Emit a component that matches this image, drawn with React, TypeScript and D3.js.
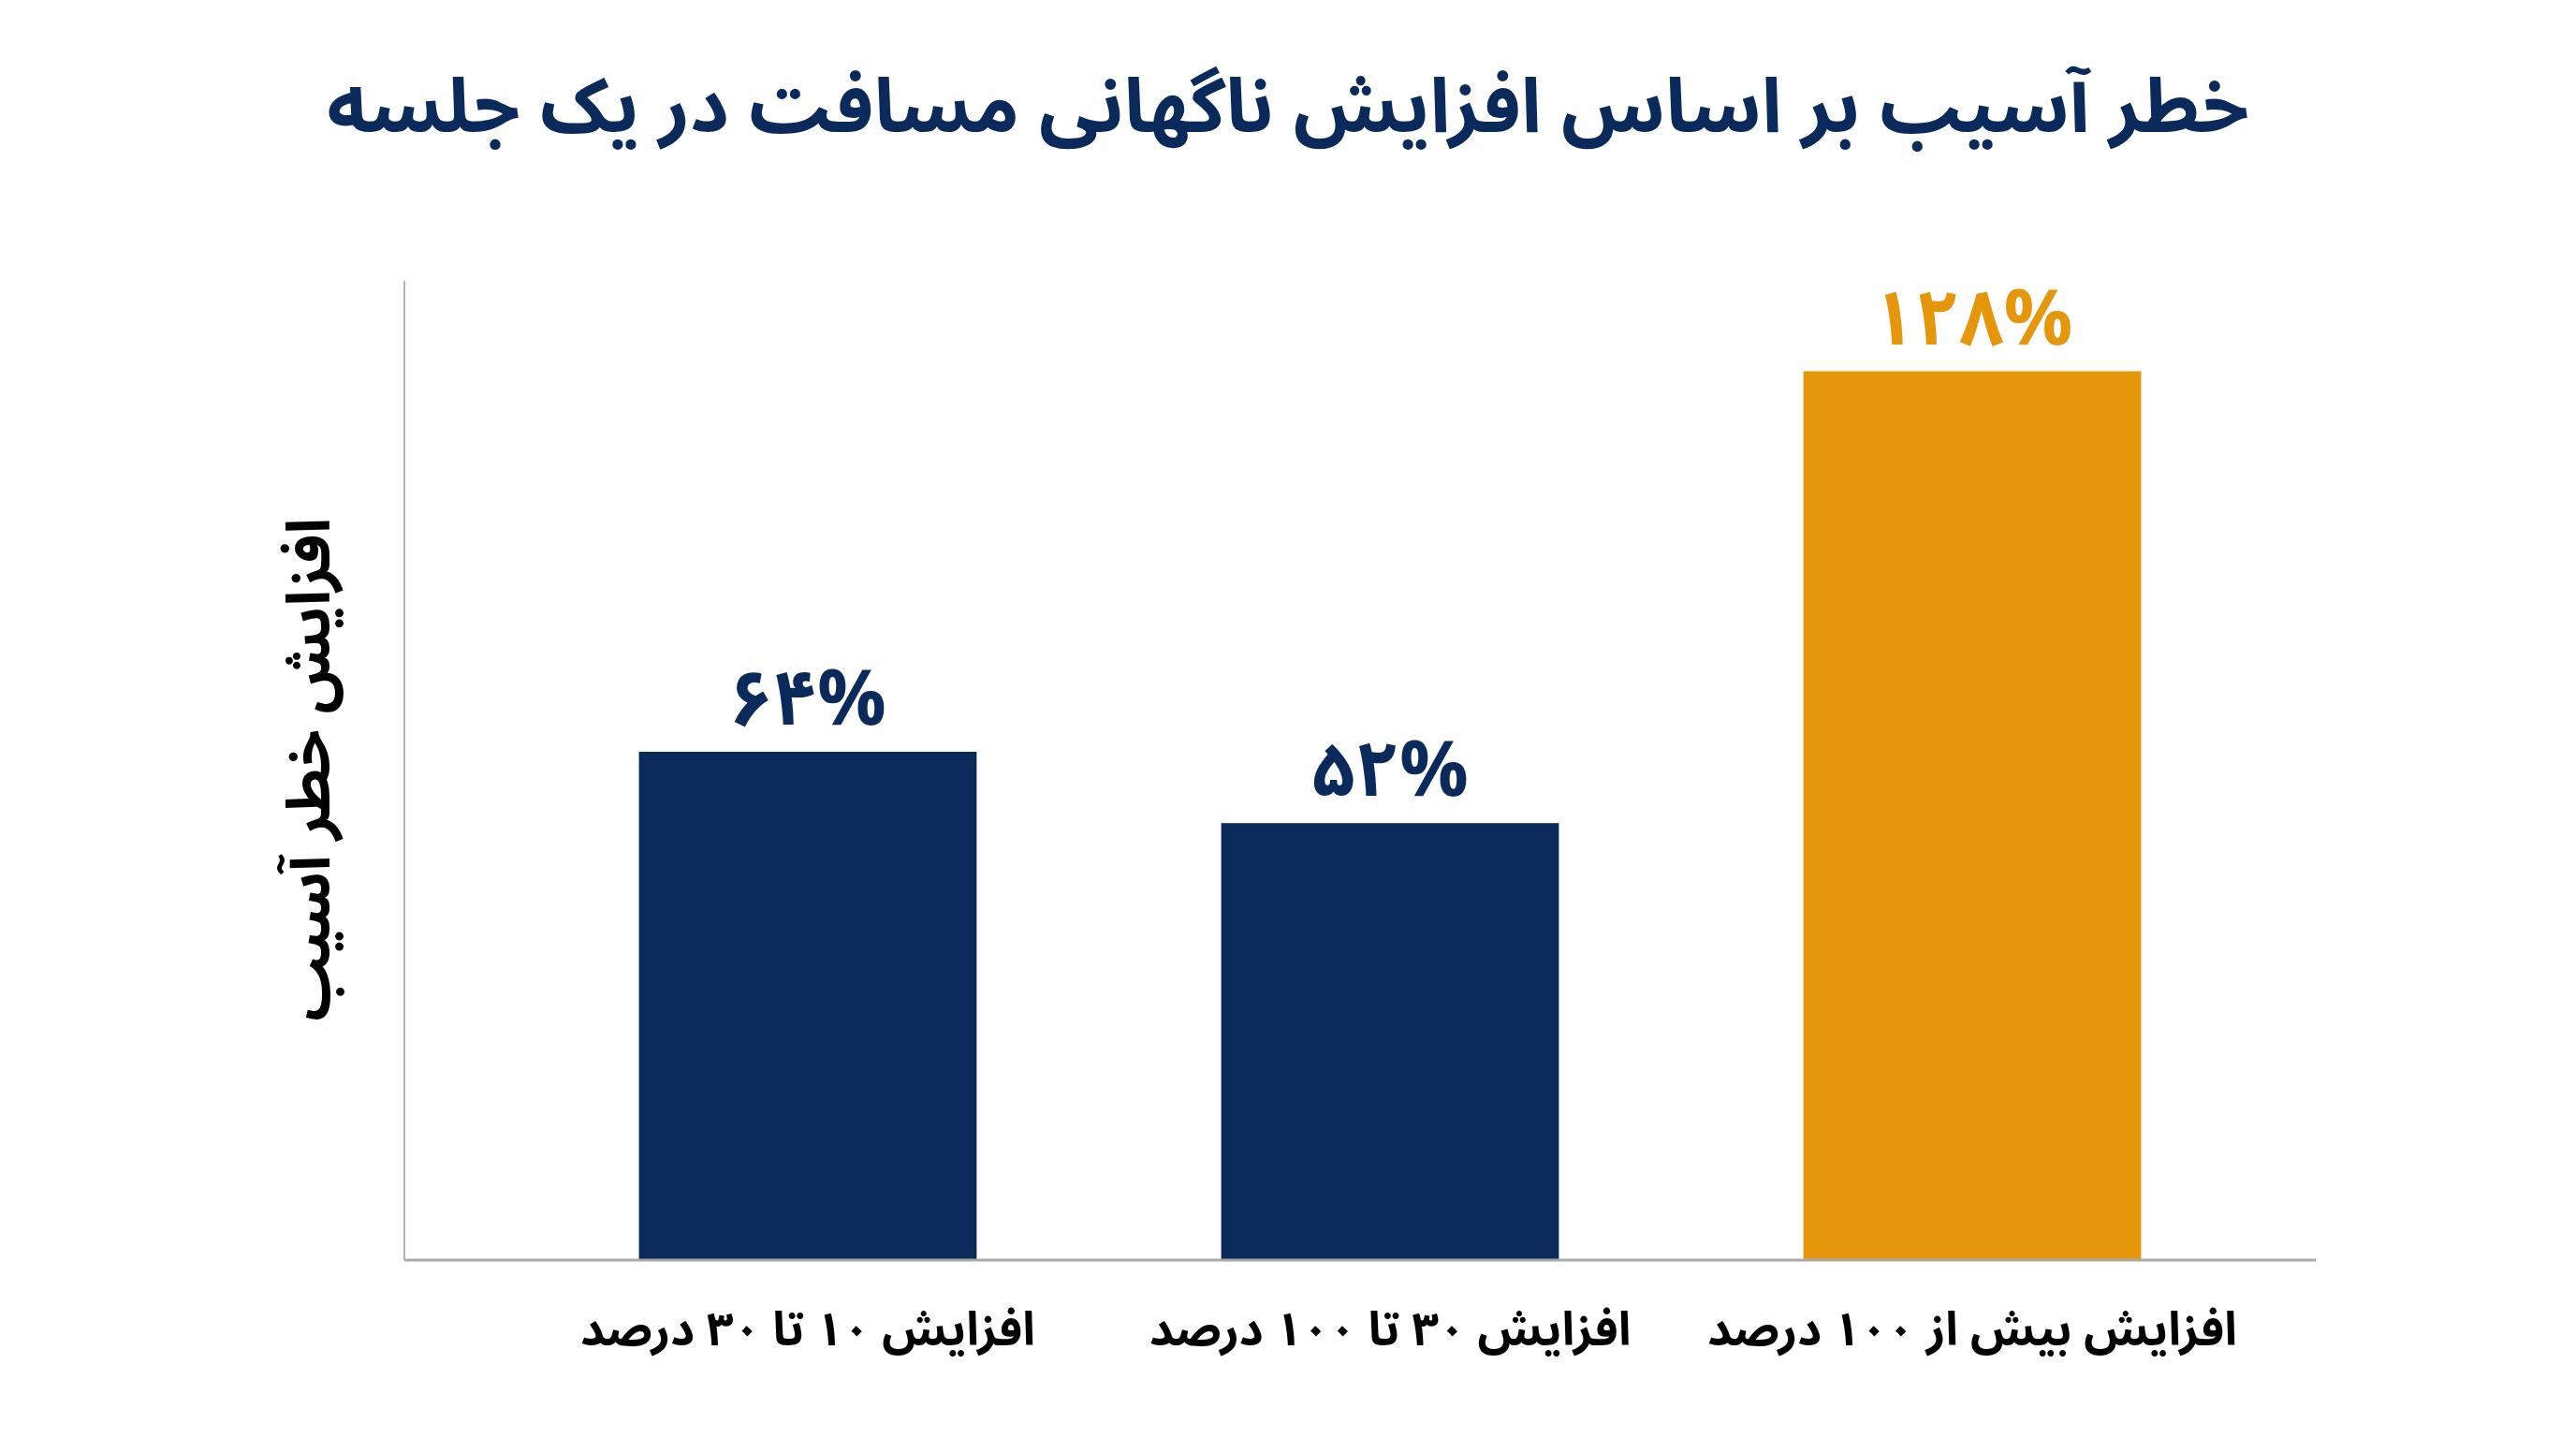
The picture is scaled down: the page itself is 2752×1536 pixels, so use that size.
import React from "react";
import * as d3 from "d3";

// chart data
const categories = ["افزایش ۱۰ تا ۳۰ درصد", "افزایش ۳۰ تا ۱۰۰ درصد", "افزایش بیش از ۱۰۰ درصد"];
const values = [64, 52, 128];
const valueLabels = ["۶۴%", "۵۲%", "۱۲۸%"];
const highlight = [false, false, true];

const title = "خطر آسیب بر اساس افزایش ناگهانی مسافت در یک جلسه";
const yTitle = "افزایش خطر آسیب";

const W = 2752;
const H = 1536;
const NAVY = "#0a2a5c";
const ORANGE = "#e6960a";
const FONT = "'Noto Sans Arabic', 'DejaVu Sans', sans-serif";

export default function App() {
  const left = 432;
  const right = 2474;
  const top = 300;
  const bottom = 1346;

  const x = d3.scaleBand<string>()
    .domain(categories)
    .range([496, right])
    .paddingInner(0.42)
    .paddingOuter(0.3);

  // axis does not start at zero in the original graphic
  const y = d3.scaleLinear().domain([-21.5, 143.2]).range([bottom, top]);

  return (
    <svg width={W} height={H} style={{position: "absolute", left: 0, top: 0, background: "#fff"}}>
      <text x={1376} y={141} textAnchor="middle" direction="rtl" fontFamily={FONT}
        fontWeight="bold" fontSize={81} fill={NAVY}>{title}</text>

      <text transform={`translate(352,822) rotate(-90)`} textAnchor="middle" direction="rtl"
        fontFamily={FONT} fontWeight="bold" fontSize={64} fill="#000">{yTitle}</text>

      <line x1={left} x2={left} y1={top} y2={bottom} stroke="#b4b4b4" strokeWidth={2} />

      {categories.map((c, i) => (
        <g key={c}>
          <rect x={x(c)} y={y(values[i])} width={x.bandwidth()} height={bottom - y(values[i])}
            fill={highlight[i] ? ORANGE : NAVY} />
          <text x={x(c)! + x.bandwidth() / 2} y={y(values[i]) - 29} textAnchor="middle"
            fontFamily={FONT} fontWeight="bold" fontSize={82} fill={highlight[i] ? ORANGE : NAVY}>
            {valueLabels[i]}
          </text>
          <text x={x(c)! + x.bandwidth() / 2} y={1437} textAnchor="middle" direction="rtl"
            fontFamily={FONT} fontWeight="bold" fontSize={50} fill="#000">{c}</text>
        </g>
      ))}

      <line x1={left} x2={right} y1={bottom} y2={bottom} stroke="#aaaaaa" strokeWidth={3} />
    </svg>
  );
}
